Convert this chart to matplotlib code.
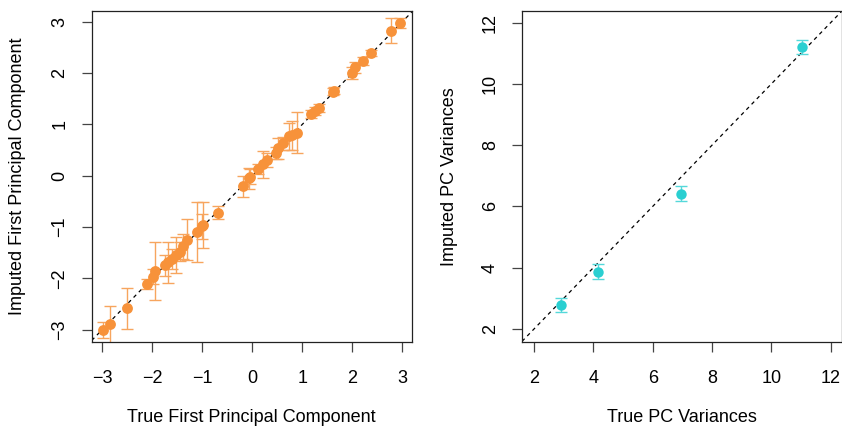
import matplotlib
matplotlib.use("Agg")
import matplotlib.pyplot as plt
import numpy as np

plt.rcParams['font.family'] = ['Liberation Sans', 'DejaVu Sans']

# Left panel: true vs imputed first principal component scores
pc1_true = [2.954, 2.774, 2.374, 2.22, 2.054, 1.988, 1.64, 1.62, 1.334, 1.254,
            1.168, 0.888, 0.788, 0.74, 0.608, 0.52, 0.474, 0.288, 0.208, 0.12,
            -0.046, -0.06, -0.18, -0.69, -0.98, -1.0, -1.11, -1.31, -1.38,
            -1.45, -1.53, -1.61, -1.68, -1.75, -1.95, -1.98, -2.10, -2.50,
            -2.846, -2.992]
pc1_imp = [2.98, 2.83, 2.386, 2.24, 2.11, 1.996, 1.657, 1.64, 1.326, 1.26,
           1.20, 0.84, 0.79, 0.77, 0.63, 0.53, 0.437, 0.306, 0.22, 0.13,
           -0.02, -0.05, -0.21, -0.72, -0.96, -0.99, -1.10, -1.25, -1.38,
           -1.48, -1.55, -1.62, -1.69, -1.75, -1.86, -1.97, -2.11, -2.585,
           -2.897, -3.008]
pc1_err = [0.10, 0.25, 0.06, 0.08, 0.10, 0.12, 0.07, 0.06, 0.08, 0.08,
           0.08, 0.40, 0.28, 0.26, 0.12, 0.20, 0.12, 0.14, 0.27, 0.10,
           0.15, 0.20, 0.21, 0.13, 0.45, 0.25, 0.58, 0.40, 0.25,
           0.18, 0.35, 0.20, 0.40, 0.20, 0.56, 0.15, 0.09, 0.40,
           0.36, 0.15]

# Right panel: true vs imputed PC variances
var_true = [2.90, 4.17, 6.955, 11.03]
var_imp = [2.78, 3.87, 6.41, 11.19]
var_err = [0.22, 0.25, 0.25, 0.23]

left_ticks = [-3, -2, -1, 0, 1, 2, 3]
right_ticks = [2, 4, 6, 8, 10, 12]

W, H = 842, 426
fig = plt.figure(figsize=(W / 100, H / 100), dpi=100)

def px_axes(x0, x1, y0, y1):
    return fig.add_axes([x0 / W, 1 - y1 / H, (x1 - x0) / W, (y1 - y0) / H])

axL = px_axes(91.7, 411.7, 10.7, 342)
axR = px_axes(522, 841.5, 10.7, 342)

orange_pt = '#F7923A'
orange_err = '#F7A55E'
cyan_pt = '#2ACFD1'
cyan_err = '#55D8DA'

axL.axline((0, 0), slope=1, color='black', lw=0.9, dashes=(3, 3), zorder=1)
axL.errorbar(pc1_true, pc1_imp, yerr=pc1_err, fmt='none', ecolor=orange_err,
             elinewidth=1.0, capsize=4.5, capthick=1.0, zorder=2)
axL.plot(pc1_true, pc1_imp, 'o', color=orange_pt, markersize=7.8,
         markeredgewidth=0, zorder=3)
axL.set_xlim(-3.212, 3.188)
axL.set_ylim(-3.242, 3.216)
axL.set_xticks(left_ticks)
axL.set_yticks(left_ticks)

axR.axline((0, 0), slope=1, color='black', lw=0.9, dashes=(3, 3), zorder=1)
axR.errorbar(var_true, var_imp, yerr=var_err, fmt='none', ecolor=cyan_err,
             elinewidth=1.0, capsize=4.5, capthick=1.0, zorder=2)
axR.plot(var_true, var_imp, 'o', color=cyan_pt, markersize=7.5,
         markeredgewidth=0, zorder=3)
axR.set_xlim(1.596, 12.36)
axR.set_ylim(1.576, 12.385)
axR.set_xticks(right_ticks)
axR.set_yticks(right_ticks)

for ax in (axL, axR):
    for s in ax.spines.values():
        s.set_linewidth(0.9)
        s.set_color('#222222')
    ax.tick_params(axis='both', direction='out', length=7.2, width=0.9,
                   color='#444444', labelsize=13, labelcolor='black')
    ax.tick_params(axis='x', pad=13)
    ax.tick_params(axis='y', pad=9.5, labelrotation=90)
    for lab in ax.get_yticklabels():
        lab.set_va('center')

axL.set_xlabel('True First Principal Component', fontsize=13, va='center')
axL.xaxis.set_label_coords(0.5, (342 - 417) / (342 - 10.7))
axL.set_ylabel('Imputed First Principal Component', fontsize=13, va='center')
axL.yaxis.set_label_coords((18 - 91.7) / 320, 0.5)

axR.set_xlabel('True PC Variances', fontsize=13, va='center')
axR.xaxis.set_label_coords(0.5, (342 - 417) / (342 - 10.7))
axR.set_ylabel('Imputed PC Variances', fontsize=13, va='center')
axR.yaxis.set_label_coords((450 - 522) / 319.5, 0.5)

fig.savefig('out.png', dpi=100)
